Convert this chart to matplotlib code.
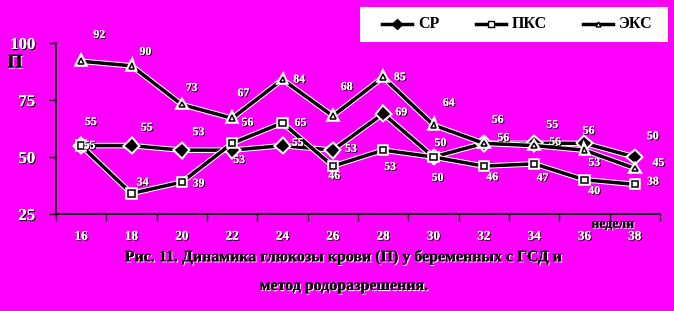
import matplotlib.pyplot as plt
import matplotlib.patheffects as pe
from matplotlib.lines import Line2D
from matplotlib.patches import Rectangle

weeks = ["16", "18", "20", "22", "24", "26", "28", "30", "32", "34", "36", "38"]
sr = [55, 55, 53, 53, 55, 53, 69, 50, 56, 56, 56, 50]
pks = [55, 34, 39, 56, 65, 46, 53, 50, 46, 47, 40, 38]
eks = [92, 90, 73, 67, 84, 68, 85, 64, 56, 55, 53, 45]
yticks = [25, 50, 75, 100]
legend_names = ["СР", "ПКС", "ЭКС"]

# label offsets in points (dx, dy)
sr_off = [(6, 0), (11, 13), (12, 13), (5, -7), (11, 2), (13, 1), (13, 1), (5, 10), (14, 4), (15, 1), (3, 9), (13, 15)]
pks_off = [(7, 17), (8, 8), (12, -1), (11, 15), (13, 0), (1, -7), (5, -12), (3, -15), (6, -8), (6, -10), (7, -8), (13, 2)]
eks_off = [(13, 19), (10, 10), (7, 12), (8, 18), (12, 0), (10, 21), (12, 0), (11, 16), (10, 17), (13, 15), (7, -9), (17, 4)]

BG = "#ff00ff"
SERIF = ["Liberation Serif", "DejaVu Serif"]
W, H = 674, 311

white_txt = [pe.withSimplePatchShadow(offset=(0.8, -0.8), shadow_rgbFace="black", alpha=1.0), pe.Normal()]
black_txt = [pe.withSimplePatchShadow(offset=(0.8, -0.8), shadow_rgbFace="white", alpha=1.0), pe.Normal()]
line_fx = [pe.Stroke(linewidth=4, foreground="white"), pe.Normal()]

fig = plt.figure(figsize=(W / 100, H / 100), dpi=100, facecolor=BG)
ax = fig.add_axes([56 / W, 1 - 214 / H, 604 / W, 171 / H])
ax.set_facecolor(BG)

x = list(range(len(weeks)))
styles = [("D", "black", 5.5), ("s", "white", 4.5), ("^", "white", 4.0)]
for vals, (mk, face, ms), offs in zip([sr, pks, eks], styles, [sr_off, pks_off, eks_off]):
    ax.plot(x, vals, color="black", lw=2.5, marker=mk, ms=ms, mfc=face, mec="black",
            mew=1.1, path_effects=line_fx, zorder=3, clip_on=False)
    for xi, v, (dx, dy) in zip(x, vals, offs):
        ax.annotate(str(v), (xi, v), xytext=(dx, dy), textcoords="offset points",
                    ha="center", va="center", fontsize=8.5, fontweight="bold",
                    color="white", family=SERIF, path_effects=white_txt, zorder=5)

ax.set_xlim(-0.5, len(weeks) - 0.5)
ax.set_ylim(25, 100)
ax.set_yticks(yticks)
ax.set_yticklabels([str(t) for t in yticks])
ax.set_xticks([i - 0.5 for i in range(len(weeks) + 1)])
ax.set_xticklabels([])
ax.set_xticks(x, minor=True)
ax.set_xticklabels(weeks, minor=True)
ax.tick_params(axis="x", which="major", direction="out", length=5, width=1, color="black")
ax.tick_params(axis="x", which="minor", length=0, pad=12)
ax.tick_params(axis="y", direction="out", length=5, width=1, color="black", pad=10)
for lab in ax.get_yticklabels():
    lab.set(fontsize=12, fontweight="bold", color="white", family=SERIF, path_effects=white_txt)
for lab in ax.get_xticklabels(minor=True):
    lab.set(fontsize=9.5, fontweight="bold", color="white", family=SERIF, path_effects=white_txt)
for s in ["top", "right"]:
    ax.spines[s].set_visible(False)
for s in ["left", "bottom"]:
    ax.spines[s].set_color("black")
    ax.spines[s].set_linewidth(1.2)

fig.text(15 / W, 1 - 63 / H, "П", fontsize=14, fontweight="bold", color="black",
         family=SERIF, ha="center", va="center", path_effects=black_txt)
fig.text(613 / W, 1 - 224 / H, "недели", fontsize=10, fontweight="bold", color="black",
         family=SERIF, ha="center", va="center", path_effects=black_txt)
fig.text(344 / W, 1 - 257 / H, "Рис. 11. Динамика глюкозы крови (П) у беременных с ГСД и",
         fontsize=11.5, fontweight="bold", color="black", family=SERIF, ha="center",
         va="center", path_effects=black_txt)
fig.text(344 / W, 1 - 286 / H, "метод родоразрешения.",
         fontsize=11.5, fontweight="bold", color="black", family=SERIF, ha="center",
         va="center", path_effects=black_txt)

# legend box drawn by hand to match the reference layout
fig.add_artist(Rectangle((360 / W, 1 - 42 / H), 308 / W, 35 / H, transform=fig.transFigure,
                         facecolor="white", edgecolor="none", zorder=1))
leg_x = [382, 476, 583]
for lx, name, (mk, face, ms) in zip(leg_x, legend_names, styles):
    fig.add_artist(Line2D([lx / W, (lx + 30) / W], [1 - 24 / H] * 2, transform=fig.transFigure,
                          color="black", lw=2.5, zorder=2))
    fig.add_artist(Line2D([(lx + 15) / W], [1 - 24 / H], transform=fig.transFigure,
                          marker=mk, ms=ms - 0.5, mfc=face, mec="black", mew=1, zorder=3))
    fig.text((lx + 36) / W, 1 - 24 / H, name, fontsize=11.5, fontweight="bold", color="black",
             family=SERIF, ha="left", va="center", zorder=3)

fig.savefig("out.png", dpi=100, facecolor=BG)
